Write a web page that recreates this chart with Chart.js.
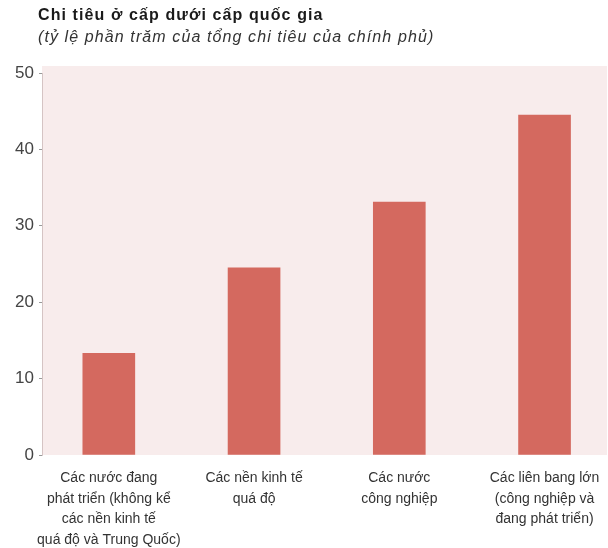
<!DOCTYPE html>
<html>
<head>
<meta charset="utf-8">
<script src="https://cdn.jsdelivr.net/npm/chart.js@4.4.1/dist/chart.umd.min.js"></script>
<style>
html,body{margin:0;padding:0;background:#fff;}
#wrap{width:608px;height:548px;position:relative;}
</style>
</head>
<body>
<div id="wrap"><canvas id="c" width="608" height="548"></canvas></div>
<script>
const titleText = "Chi tiêu ở cấp dưới cấp quốc gia";
const subtitleText = "(tỷ lệ phần trăm của tổng chi tiêu của chính phủ)";
const categories = [
  ["Các nước đang", "phát triển (không kể", "các nền kinh tế", "quá độ và Trung Quốc)"],
  ["Các nền kinh tế", "quá độ"],
  ["Các nước", "công nghiệp"],
  ["Các liên bang lớn", "(công nghiệp và", "đang phát triển)"]
];
const values = [13.3, 24.5, 33.1, 44.5];
const yTicks = [0, 10, 20, 30, 40, 50];

const FONT = "'Liberation Sans', Arial, Helvetica, sans-serif";

const canvas = document.getElementById('c');
const ctx0 = canvas.getContext('2d');
ctx0.letterSpacing = '0.8px';

const bgPlugin = {
  id: 'bg',
  beforeDraw(chart) {
    const {ctx, chartArea: a} = chart;
    ctx.save();
    ctx.fillStyle = '#f8ecec';
    ctx.fillRect(a.left, a.top - 7, a.right - a.left, a.bottom - a.top + 7);
    ctx.restore();
  },
  afterDraw(chart) {
    const ctx = chart.ctx;
    ctx.save();
    ctx.textBaseline = 'middle';
    ctx.textAlign = 'left';
    ctx.fillStyle = '#1a1a1a';
    ctx.letterSpacing = '1.1px';
    ctx.font = "bold 16px " + FONT;
    ctx.fillText(titleText, 38, 16);
    ctx.fillStyle = '#333';
    ctx.letterSpacing = '1.1px';
    ctx.font = "italic 16px " + FONT;
    ctx.fillText(subtitleText, 38, 38);
    ctx.restore();
  }
};

new Chart(canvas, {
  type: 'bar',
  data: {
    datasets: [{
      data: values.map((v, i) => ({ x: i, y: v })),
      backgroundColor: '#d4695f',
      borderWidth: 0,
      barThickness: 52
    }]
  },
  options: {
    responsive: false,
    animation: false,
    devicePixelRatio: 1,
    layout: { padding: { top: 73, left: 8, right: 1, bottom: 0 } },
    plugins: {
      legend: { display: false },
      tooltip: { enabled: false },
      title: { display: false }
    },
    scales: {
      x: {
        type: 'linear',
        offset: false,
        min: -0.46,
        max: 3.43,
        afterBuildTicks(scale) { scale.ticks = categories.map((c, i) => ({ value: i })); },
        afterFit(scale) { scale.height = 93; scale.paddingRight = 0; scale.paddingLeft = 0; },
        grid: { display: false, drawTicks: false },
        border: { display: false },
        ticks: {
          color: '#333',
          font: { family: FONT, size: 14, lineHeight: '20.5px' },
          padding: 13,
          maxRotation: 0,
          autoSkip: false,
          callback: (v) => categories[v]
        }
      },
      y: {
        min: 0,
        max: 50,
        afterBuildTicks(scale) { scale.ticks = yTicks.map(v => ({ value: v })); },
        afterFit(scale) { scale.width = 34; },
        grid: { drawOnChartArea: false, drawTicks: true, tickLength: 3, color: '#999', lineWidth: 1 },
        border: { display: true, color: 'rgba(190,170,170,0.6)', dash: [1, 2] },
        ticks: {
          color: '#444',
          font: { family: FONT, size: 17 },
          padding: 5
        }
      }
    }
  },
  plugins: [bgPlugin]
});
</script>
</body>
</html>
